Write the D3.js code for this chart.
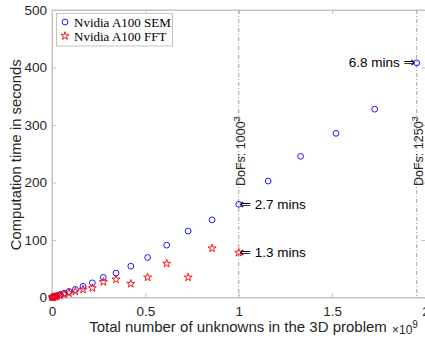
<!DOCTYPE html>
<html>
<head>
<meta charset="utf-8">
<script src="https://cdn.jsdelivr.net/npm/d3@7"></script>
<style>
  html, body { margin: 0; padding: 0; background: #fff; }
  svg { display: block; }
</style>
</head>
<body>
<svg id="chart" width="425" height="341"></svg>
<script>
// Grid sizes N (problem has N^3 unknowns)
const gridN = [100, 150, 200, 250, 300, 350, 400, 450, 500, 550, 600, 650, 700,
               750, 800, 850, 900, 950, 1000, 1050, 1100, 1150, 1200, 1250];

// Computation time in seconds, spectral element solver on A100
const semTimes = [0.3, 0.6, 1.0, 1.8, 3.0, 5.0, 7.5, 10.5, 14, 19.5, 25.5, 35, 42.5,
                  54.5, 69.5, 91, 115.5, 135, 162, 202.5, 245.5, 285.5, 327.5, 408];

// Computation time in seconds, FFT solver on A100 (up to N = 1000)
const fftN = [100, 150, 200, 250, 300, 350, 400, 450, 500, 550, 600, 650, 700,
              750, 800, 850, 900, 950, 1000];
const fftTimes = [0.2, 0.4, 0.7, 1.2, 2.0, 3.5, 5.5, 7.5, 10.5, 14, 16.5, 27, 31.5,
                  24, 35, 59, 35, 85.5, 78];

const xTicks = [0, 0.5, 1, 1.5, 2];
const yTicks = [0, 100, 200, 300, 400, 500];
const seriesNames = ["Nvidia A100 SEM", "Nvidia A100 FFT"];

// Reference grid sizes drawn as vertical lines
const refN = [1000, 1250];
// Points that get a "mins" callout: [series, N, side]
const callouts = [["sem", 1000, "right"], ["fft", 1000, "right"], ["sem", 1250, "left"]];

const svg = d3.select("#chart");
const plotL = 52, plotR = 425.5, plotT = 10, plotB = 297.5;

const x = d3.scaleLinear().domain([0, 2]).range([plotL, plotR]);
const y = d3.scaleLinear().domain([0, 500]).range([plotB, plotT]);
const dofs = n => Math.pow(n, 3) / 1e9;

const axisColor = "#c4c4c4";
const textColor = "#262626";
const sansFont = "'Liberation Sans', Arial, Helvetica, sans-serif";

// Box
svg.append("rect")
  .attr("x", plotL).attr("y", plotT)
  .attr("width", plotR - plotL).attr("height", plotB - plotT)
  .attr("fill", "none").attr("stroke", axisColor).attr("stroke-width", 1);

// Bottom axis
const xAxis = svg.append("g")
  .attr("transform", `translate(0,${plotB})`)
  .call(d3.axisBottom(x).tickValues(xTicks).tickSizeInner(-4).tickSizeOuter(0)
        .tickFormat(d => d3.format("~g")(d)));
xAxis.select(".domain").attr("stroke", axisColor);
xAxis.selectAll(".tick line").attr("stroke", axisColor);
xAxis.selectAll(".tick text").attr("fill", textColor)
  .attr("font-family", sansFont).attr("font-size", 13.5).attr("dy", null).attr("y", 18.5);

// Top ticks
const xTop = svg.append("g")
  .attr("transform", `translate(0,${plotT})`)
  .call(d3.axisTop(x).tickValues(xTicks).tickSizeInner(-4).tickSizeOuter(0).tickFormat(""));
xTop.select(".domain").attr("stroke", axisColor);
xTop.selectAll(".tick line").attr("stroke", axisColor);

// Left axis
const yAxis = svg.append("g")
  .attr("transform", `translate(${plotL},0)`)
  .call(d3.axisLeft(y).tickValues(yTicks).tickSizeInner(-4).tickSizeOuter(0));
yAxis.select(".domain").attr("stroke", axisColor);
yAxis.selectAll(".tick line").attr("stroke", axisColor);
yAxis.selectAll(".tick text").attr("fill", textColor)
  .attr("font-family", sansFont).attr("font-size", 13.5).attr("x", -5);

// Right ticks
const yRight = svg.append("g")
  .attr("transform", `translate(${plotR},0)`)
  .call(d3.axisRight(y).tickValues(yTicks).tickSizeInner(-4).tickSizeOuter(0).tickFormat(""));
yRight.select(".domain").attr("stroke", axisColor);
yRight.selectAll(".tick line").attr("stroke", axisColor);

// Axis labels
svg.append("text")
  .attr("x", 238).attr("y", 332)
  .attr("text-anchor", "middle")
  .attr("font-family", sansFont).attr("font-size", 15).attr("fill", textColor)
  .text("Total number of unknowns in the 3D problem");

const expo = svg.append("text")
  .attr("x", 392).attr("y", 334)
  .attr("font-family", sansFont).attr("font-size", 12).attr("fill", textColor);
expo.append("tspan").text("\u00d710");
expo.append("tspan").attr("dy", -6).attr("font-size", 10).text("9");

svg.append("text")
  .attr("transform", `translate(21,${(plotT + plotB) / 2 + 1}) rotate(-90)`)
  .attr("text-anchor", "middle")
  .attr("font-family", sansFont).attr("font-size", 14.8).attr("fill", textColor)
  .text("Computation time in seconds");

// Reference lines with rotated labels
refN.forEach(n => {
  const xv = x(dofs(n));
  svg.append("line")
    .attr("x1", xv).attr("x2", xv).attr("y1", plotT).attr("y2", plotB)
    .attr("stroke", "#a0a0a0").attr("stroke-width", 1)
    .attr("stroke-dasharray", "4,2,1,2");
  const t = svg.append("text")
    .attr("transform", `translate(${xv + 6.5},186) rotate(-90)`)
    .attr("text-anchor", "start")
    .attr("font-family", sansFont).attr("font-size", 12.5).attr("fill", textColor);
  t.append("tspan").text(`DoFs: ${n}`);
  t.append("tspan").attr("dy", -5.5).attr("font-size", 9.5).text("3");
});

// Markers
const starPath = d3.symbol().type(d3.symbolStar).size(20)();

svg.append("g").selectAll("circle")
  .data(gridN.map((n, i) => [dofs(n), semTimes[i]]))
  .join("circle")
  .attr("cx", d => x(d[0])).attr("cy", d => y(d[1])).attr("r", 2.9)
  .attr("fill", "none").attr("stroke", "#0000ff").attr("stroke-width", 0.9);

svg.append("g").selectAll("path")
  .data(fftN.map((n, i) => [dofs(n), fftTimes[i]]))
  .join("path")
  .attr("d", starPath)
  .attr("transform", d => `translate(${x(d[0])},${y(d[1])})`)
  .attr("fill", "none").attr("stroke", "#ff0000").attr("stroke-width", 0.9);

// Callouts in minutes
callouts.forEach(([series, n, side]) => {
  const times = series === "sem" ? semTimes : fftTimes;
  const ns = series === "sem" ? gridN : fftN;
  const v = times[ns.indexOf(n)];
  const px = x(dofs(n)), py = y(v);
  const label = `${(v / 60).toFixed(1)} mins`;
  const t = svg.append("text")
    .attr("y", py + 4.5)
    .attr("font-family", sansFont).attr("font-size", 13.5).attr("fill", "#000");
  if (side === "right") {
    t.attr("x", px + 0.5).attr("text-anchor", "start");
    t.append("tspan").attr("font-family", "'DejaVu Sans'").attr("font-size", 14).text("\u21d0");
    t.append("tspan").text(" " + label);
  } else {
    t.attr("x", px - 1.5).attr("text-anchor", "end");
    t.append("tspan").text(label + " ");
    t.append("tspan").attr("font-family", "'DejaVu Sans'").attr("font-size", 14).text("\u21d2");
  }
});

// Legend
const lg = svg.append("g");
lg.append("rect")
  .attr("x", 56.5).attr("y", 13.5).attr("width", 116).attr("height", 32.5)
  .attr("fill", "#fff").attr("stroke", axisColor).attr("stroke-width", 1);
seriesNames.forEach((name, i) => {
  const cy = 22 + i * 14;
  if (i === 0) {
    lg.append("circle").attr("cx", 65).attr("cy", cy).attr("r", 2.9)
      .attr("fill", "none").attr("stroke", "#0000ff").attr("stroke-width", 0.9);
  } else {
    lg.append("path").attr("d", starPath).attr("transform", `translate(65,${cy})`)
      .attr("fill", "none").attr("stroke", "#ff0000").attr("stroke-width", 0.9);
  }
  lg.append("text")
    .attr("x", 74).attr("y", cy + 4.5)
    .attr("font-family", "'Liberation Serif', 'Times New Roman', serif")
    .attr("font-size", 13).attr("fill", "#000")
    .text(name);
});
</script>
</body>
</html>
